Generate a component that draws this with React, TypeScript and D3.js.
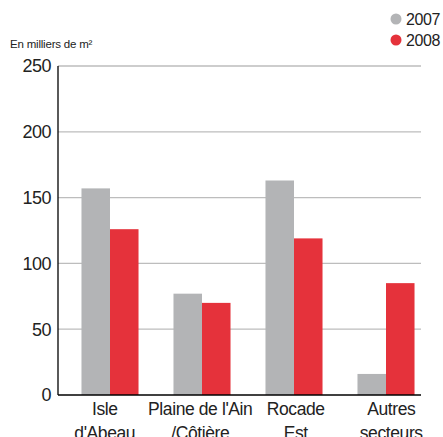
import React from "react";
import * as d3 from "d3";

const categories: string[][] = [
  ["Isle", "d'Abeau"],
  ["Plaine de l'Ain", "/Côtière"],
  ["Rocade", "Est"],
  ["Autres", "secteurs"],
];
const seriesNames = ["2007", "2008"];
const values2007 = [157, 77, 163, 16];
const values2008 = [126, 70, 119, 85];
const yTicks = [0, 50, 100, 150, 200, 250];
const unitLabel = "En milliers de m²";

const colors = ["#b3b4b6", "#e5323b"];
const font = "'Liberation Sans', Arial, Helvetica, sans-serif";

export default function App() {
  const width = 443;
  const height = 437;
  const left = 58;
  const right = 421;
  const top = 66;
  const bottom = 395;

  const y = d3.scaleLinear().domain([0, 250]).range([bottom, top]);
  const x0 = d3
    .scaleBand<number>()
    .domain(d3.range(categories.length))
    .range([64, 432])
    .paddingInner(0.38)
    .paddingOuter(0.19);
  const x1 = d3
    .scaleBand<number>()
    .domain([0, 1])
    .range([0, x0.bandwidth()])
    .padding(0);
  // label positions run on their own band scale
  const xl = d3
    .scaleBand<number>()
    .domain(d3.range(categories.length))
    .range([57, 439]);

  const series = [values2007, values2008];

  return (
    <svg
      width={width}
      height={height}
      style={{ position: "absolute", left: 0, top: 0, background: "#fff" }}
      fontFamily={font}
    >
      {/* gridlines */}
      {yTicks.slice(1).map((t) => (
        <line
          key={t}
          x1={left}
          x2={right}
          y1={y(t)}
          y2={y(t)}
          stroke="#bdbdbd"
          strokeWidth={1.3}
        />
      ))}
      {/* bars */}
      {categories.map((_, i) =>
        series.map((vals, s) => (
          <rect
            key={`${i}-${s}`}
            x={(x0(i) ?? 0) + (x1(s) ?? 0)}
            y={y(vals[i])}
            width={x1.bandwidth()}
            height={y(0) - y(vals[i])}
            fill={colors[s]}
          />
        ))
      )}
      {/* axes */}
      <line x1={left} x2={left} y1={top} y2={bottom} stroke="#000" strokeWidth={1.3} />
      <line x1={left} x2={right} y1={bottom} y2={bottom} stroke="#000" strokeWidth={1.3} />
      {/* y tick labels */}
      {yTicks.map((t) => (
        <text
          key={t}
          x={51}
          y={y(t)}
          dy="0.36em"
          textAnchor="end"
          fontSize={18}
          fill="#222"
          letterSpacing={-0.5}
        >
          {t}
        </text>
      ))}
      {/* category labels */}
      {categories.map((lines, i) => {
        const cx = (xl(i) ?? 0) + xl.bandwidth() / 2;
        return (
          <text key={i} textAnchor="middle" fontSize={17.5} fill="#222" letterSpacing={-0.4}>
            {lines.map((l, k) => (
              <tspan key={k} x={cx} y={414.5 + k * 24}>
                {l}
              </tspan>
            ))}
          </text>
        );
      })}
      {/* unit label */}
      <text x={10} y={48} fontSize={11.5} fill="#222" letterSpacing={-0.2}>
        {unitLabel}
      </text>
      {/* legend */}
      {seriesNames.map((n, i) => (
        <g key={n} transform={`translate(0, ${19 + i * 21})`}>
          <circle cx={396} cy={0} r={5.5} fill={colors[i]} />
          <text x={406} y={0} dy="0.36em" fontSize={16} fill="#222" letterSpacing={-0.4}>
            {n}
          </text>
        </g>
      ))}
    </svg>
  );
}
